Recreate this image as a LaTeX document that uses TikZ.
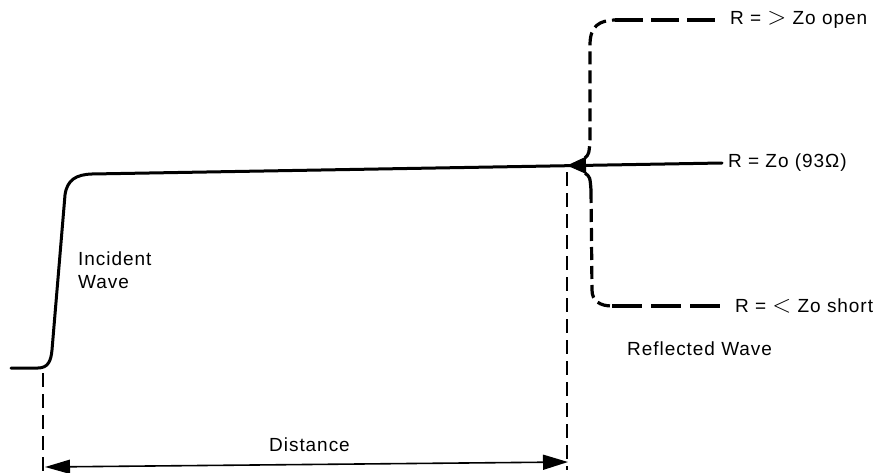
\documentclass[tikz,border=0pt]{standalone}
\usepackage{fontspec}
\setmainfont{Liberation Sans}[LetterSpace=5]
\usetikzlibrary{arrows.meta}
\tikzset{
  lbl/.style={inner sep=0pt, anchor=west, font=\fontsize{19}{23}\selectfont},
  wave/.style={line width=3pt, line cap=round, line join=round},
  dashv/.style={line width=3.2pt, dash pattern=on 13pt off 6pt},
  dashhu/.style={line width=3.2pt, dash pattern=on 28pt off 8pt},
  dashhs/.style={line width=3.2pt, dash pattern=on 30pt off 9pt},
  refline/.style={line width=1.8pt, dash pattern=on 14pt off 7pt},
  bigtip/.style={{Triangle[length=25pt,width=14pt]}-{Triangle[length=25pt,width=15pt]}},
}
\newcommand{\bigsym}[1]{{\fontsize{25}{25}\selectfont$#1$}}
\begin{document}
\begin{tikzpicture}[x=1pt,y=-1pt]
\useasboundingbox (0,0) rectangle (890,473);

% incident wave
\coordinate (w0) at (11,368);
\coordinate (w1) at (38,368);
\coordinate (w2) at (52,350);
\coordinate (w3) at (65,195);
\coordinate (w4) at (92,174);
\coordinate (w5) at (722,163);
\draw[wave] (w0) -- (w1) .. controls (48,368) and (51,361) .. (w2)
  -- (w3) .. controls (67,180) and (76,174.5) .. (w4) -- (w5);

% junction arrow (reflected)
\coordinate (tip) at (567,165.5);
\coordinate (base) at (586,165.3);
\draw[line width=1pt, -{Triangle[length=19pt,width=17pt]}] (base) -- (tip);

% open (upper) dashed path
\coordinate (u0) at (585,158);
\coordinate (u1) at (590,140);
\coordinate (u2) at (590,45);
\coordinate (u3) at (615,20);
\coordinate (u4) at (715,20);
\draw[dashv] (u0) .. controls (589,154) .. (u1) -- (u2) .. controls (590,26) and (599,20.5) .. (u3);
\draw[dashhu] (u3) -- (u4);

% short (lower) dashed path
\coordinate (s0) at (585,173);
\coordinate (s1) at (591,190);
\coordinate (s2) at (592,290);
\coordinate (s3) at (612,306);
\coordinate (s4) at (720,306);
\draw[line width=3.2pt] (s0) .. controls (590,177) .. (s1);
\draw[dashv] (s1) -- (s2) .. controls (592,301) and (600,306) .. (s3);
\draw[dashhs] (s3) -- (s4);

% reference lines
\coordinate (l0) at (43,373);
\coordinate (l1) at (43,473);
\coordinate (r0) at (567,172);
\coordinate (r1) at (567,470);
\draw[refline] (l0) -- (l1);
\draw[refline] (r0) -- (r1);

% distance arrow
\coordinate (d0) at (45,467);
\coordinate (d1) at (568,462);
\draw[line width=1.6pt, bigtip] (d0) -- (d1);

% labels
\node[lbl] (open) at (730,20) {R = \bigsym{>} Zo open};
\node[lbl] (match) at (728,163) {R = Zo (93Ω)};
\node[lbl] (short) at (735,306) {R = \bigsym{<} Zo short};
\node[lbl] (refl) at (627,349) {Reflected Wave};
\node[lbl, align=left, anchor=north west] (inc) at (78,252) {Incident\\Wave};
\node[lbl, anchor=east] (dist) at (350,445) {Distance};
\end{tikzpicture}
\end{document}
